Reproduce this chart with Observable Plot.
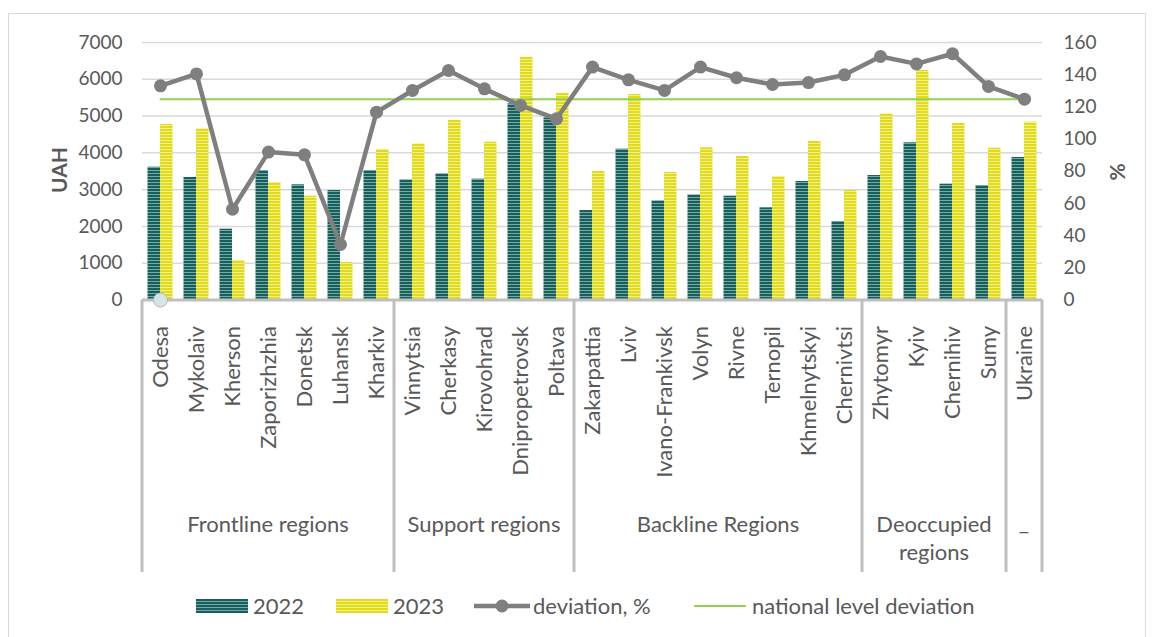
<!DOCTYPE html>
<html>
<head>
<meta charset="utf-8">
<script src="https://cdn.jsdelivr.net/npm/d3@7"></script>
<script src="https://cdn.jsdelivr.net/npm/@observablehq/plot@0.6"></script>
<style>
  html, body { margin: 0; padding: 0; background: #fff; }
  #wrap { position: relative; width: 1153px; height: 637px; overflow: hidden; font-family: Lato, sans-serif; }
  #frame { position: absolute; left: 8px; top: 13px; width: 1138px; height: 640px; border: 1px solid #d9d9d9; box-sizing: border-box; }
  #chart { position: absolute; left: 0; top: 0; }
  #legend { position: absolute; left: 0; top: 590px; }
</style>
</head>
<body>
<div id="wrap">
  <div id="frame"></div>
  <div id="chart"></div>
  <div id="legend"></div>
</div>
<script>
const regions = ["Odesa","Mykolaiv","Kherson","Zaporizhzhia","Donetsk","Luhansk","Kharkiv",
  "Vinnytsia","Cherkasy","Kirovohrad","Dnipropetrovsk","Poltava",
  "Zakarpattia","Lviv","Ivano-Frankivsk","Volyn","Rivne","Ternopil","Khmelnytskyi","Chernivtsi",
  "Zhytomyr","Kyiv","Chernihiv","Sumy","Ukraine"];
const groupNames = [["Frontline regions"],["Support regions"],["Backline Regions"],["Deoccupied","regions"],["–"]];
const groupSizes = [7,5,8,4,1];
const v2022 = [3610,3330,1925,3520,3131,2977,3520,
  3267,3430,3285,5333,4950,
  2433,4100,2696,2859,2823,2506,3221,2134,
  3384,4273,3148,3113,3874];
const v2023 = [4771,4654,1074,3194,2823,1019,4091,
  4246,4880,4291,6601,5622,
  3493,5586,3466,4137,3901,3357,4309,2977,
  5061,6239,4798,4127,4834];
const deviation = [133.1,140.5,56.4,91.9,90.2,34.5,116.7,
  130.2,142.6,131.2,120.9,112.6,
  144.7,136.8,130.2,144.7,138.1,133.9,135.1,139.9,
  151.3,146.7,153.0,132.7,124.8];
const nationalLevel = 124.8;
const baseMarker = [{region: "Odesa", value: 0}];
const leftTicks = [0,1000,2000,3000,4000,5000,6000,7000];
const rightTicks = [0,20,40,60,80,100,120,140,160];

const K = 7000 / 160;
const data = regions.map((r, i) => ({region: r, v2022: v2022[i], v2023: v2023[i], dev: deviation[i]}));

const plot = Plot.plot({
  width: 1153, height: 590,
  marginLeft: 142, marginRight: 111, marginTop: 42, marginBottom: 290.5,
  style: {fontFamily: "Lato, sans-serif", fontSize: "22px", color: "#595959", background: "transparent", overflow: "visible"},
  x: {domain: regions, padding: 0, axis: null},
  y: {domain: [0, 7000], axis: null},
  marks: [
    Plot.ruleY(leftTicks.slice(1), {stroke: "#d9d9d9", strokeWidth: 1.5}),
    Plot.axisY(leftTicks, {anchor: "left", tickSize: 0, tickPadding: 20, label: null, fontSize: 19,
      tickFormat: d => String(d)}),
    Plot.axisY(rightTicks.map(t => t * K), {anchor: "right", tickSize: 0, tickPadding: 21, label: null, fontSize: 19,
      tickFormat: d => String(Math.round(d / K))}),
    Plot.axisX(regions, {anchor: "bottom", tickSize: 0, tickPadding: 26, tickRotate: -90, label: null, fontSize: 22}),
    Plot.barY(data, {x: "region", y: "v2022", fill: "url(#pat2022)", insetLeft: 5.5, insetRight: 18}),
    Plot.barY(data, {x: "region", y: "v2023", fill: "url(#pat2023)", insetLeft: 18, insetRight: 5.5}),
    Plot.ruleY([0], {stroke: "#bfbfbf", strokeWidth: 3}),
    Plot.lineY(data, {x: "region", y: () => nationalLevel * K, stroke: "#92d050", strokeWidth: 2}),
    Plot.lineY(data, {x: "region", y: d => d.dev * K, stroke: "#7f7f7f", strokeWidth: 4.5}),
    Plot.dot(data, {x: "region", y: d => d.dev * K, r: 6.5, fill: "#7f7f7f"}),
    Plot.dot(baseMarker, {x: "region", y: "value", r: 7, fill: "#d6e4e4", stroke: "#a9bfbf", strokeWidth: 1})
  ]
});
document.getElementById("chart").appendChild(plot);

const svg = d3.select(plot);
const defs = svg.insert("defs", ":first-child");
function stripe(id, base, light) {
  const p = defs.append("pattern").attr("id", id).attr("patternUnits", "userSpaceOnUse")
    .attr("width", 6).attr("height", 3);
  p.append("rect").attr("width", 6).attr("height", 3).attr("fill", base);
  p.append("rect").attr("y", 2).attr("width", 6).attr("height", 1).attr("fill", light);
}
stripe("pat2022", "#1a5e5b", "#6fabA7");
stripe("pat2023", "#e0dc1c", "#f3f08a");

const xs = plot.scale("x");
const ys = plot.scale("y");
const y0 = ys.apply(0);
const bw = xs.bandwidth;
const sepG = svg.append("g");
const labG = svg.append("g").attr("fill", "#595959").attr("text-anchor", "middle").style("font-size", "22px");
let idx = 0;
const bounds = [];
groupSizes.forEach((n, gi) => {
  const x0 = xs.apply(regions[idx]);
  const x1 = xs.apply(regions[idx + n - 1]) + bw;
  bounds.push(x0);
  if (gi === groupSizes.length - 1) bounds.push(x1);
  const t = labG.append("text");
  const base = groupNames[gi][0] === "–" ? 539 : 532;
  groupNames[gi].forEach((line, li) => {
    t.append("tspan").attr("x", (x0 + x1) / 2).attr("y", base + li * 28).text(line);
  });
  idx += n;
});
bounds.forEach(x => {
  sepG.append("line").attr("x1", x).attr("x2", x).attr("y1", y0).attr("y2", 572)
    .attr("stroke", "#bfbfbf").attr("stroke-width", 3);
});
svg.append("text").attr("transform", "translate(67,170) rotate(-90)").attr("text-anchor", "middle")
  .attr("fill", "#595959").style("font-weight", "bold").style("font-size", "21px").text("UAH");
svg.append("text").attr("transform", "translate(1125,172) rotate(-90)").attr("text-anchor", "middle")
  .attr("fill", "#595959").style("font-weight", "bold").style("font-size", "21px").text("%");

// legend
const lg = d3.select("#legend").append("svg").attr("width", 1153).attr("height", 47)
  .style("font-family", "Lato, sans-serif").style("font-size", "22px");
const ly = 16;
lg.append("rect").attr("x", 196).attr("y", ly - 7).attr("width", 52).attr("height", 14).attr("fill", "url(#pat2022)");
lg.append("text").attr("x", 253).attr("y", ly).attr("dy", "0.35em").attr("fill", "#595959").text("2022");
lg.append("rect").attr("x", 336).attr("y", ly - 7).attr("width", 52).attr("height", 14).attr("fill", "url(#pat2023)");
lg.append("text").attr("x", 393).attr("y", ly).attr("dy", "0.35em").attr("fill", "#595959").text("2023");
lg.append("line").attr("x1", 474).attr("x2", 530).attr("y1", ly).attr("y2", ly).attr("stroke", "#7f7f7f").attr("stroke-width", 4.5);
lg.append("circle").attr("cx", 502).attr("cy", ly).attr("r", 6.5).attr("fill", "#7f7f7f");
lg.append("text").attr("x", 533).attr("y", ly).attr("dy", "0.35em").attr("fill", "#595959").text("deviation, %");
lg.append("line").attr("x1", 694).attr("x2", 746).attr("y1", ly).attr("y2", ly).attr("stroke", "#92d050").attr("stroke-width", 2);
lg.append("text").attr("x", 752).attr("y", ly).attr("dy", "0.35em").attr("fill", "#595959").text("national level deviation");
</script>
</body>
</html>
